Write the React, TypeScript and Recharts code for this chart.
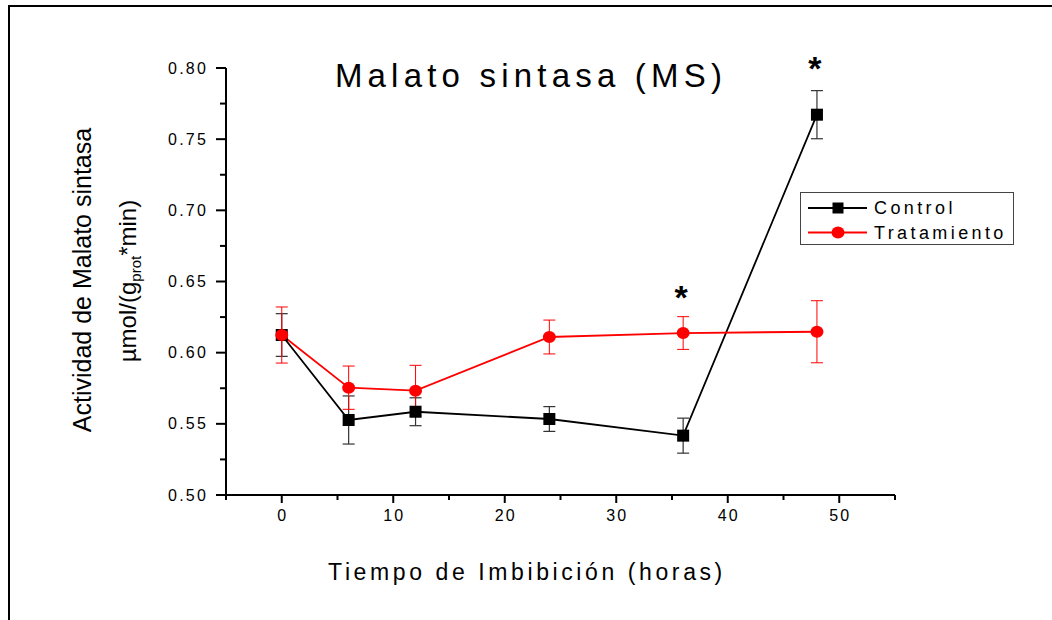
import React from 'react';
import { ComposedChart, Line, ErrorBar, XAxis, YAxis, Legend, ReferenceDot } from 'recharts';

const HORAS = [0, 6, 12, 24, 36, 48];
const CONTROL = [0.6124, 0.5527, 0.5585, 0.5534, 0.5417, 0.7672];
const CONTROL_ERR = [0.015, 0.0169, 0.0098, 0.0087, 0.0123, 0.0169];
const TRATAMIENTO = [0.6124, 0.5754, 0.5733, 0.611, 0.6138, 0.6147];
const TRATAMIENTO_ERR = [0.0197, 0.0152, 0.0178, 0.0119, 0.0115, 0.0218];
// asteriscos de significancia (hora, posición en el eje y)
const SIG_HORAS = [36, 48];
const SIG_Y = [0.644, 0.805];

const X_TICKS = [-5, 0, 5, 10, 15, 20, 25, 30, 35, 40, 45, 50, 55];
const Y_TICKS = [0.5, 0.525, 0.55, 0.575, 0.6, 0.625, 0.65, 0.675, 0.7, 0.725, 0.75, 0.775, 0.8];

const FONT = '"Liberation Sans", Arial, sans-serif';

const data = HORAS.map((h, i) => ({
  hora: h,
  control: CONTROL[i],
  controlErr: CONTROL_ERR[i],
  tratamiento: TRATAMIENTO[i],
  tratamientoErr: TRATAMIENTO_ERR[i],
}));

const XTick = (props: any) => {
  const { x, y, payload } = props;
  const v = payload.value;
  const major = v % 10 === 0;
  return (
    <g>
      <line x1={x} y1={y} x2={x} y2={y + (major ? 8 : 5)} stroke="#000" strokeWidth={2} />
      {major && (
        <text x={x + 1} y={y + 26} textAnchor="middle" fontSize={16} letterSpacing={2} fontFamily={FONT} fill="#000">
          {v}
        </text>
      )}
    </g>
  );
};

const YTick = (props: any) => {
  const { x, y, payload } = props;
  const v = payload.value;
  const major = Math.round(v * 1000) % 50 === 0;
  return (
    <g>
      <line x1={x - (major ? 10 : 6)} y1={y} x2={x} y2={y} stroke="#000" strokeWidth={2} />
      {major && (
        <text x={x - 18} y={y} textAnchor="end" dominantBaseline="central" fontSize={16} letterSpacing={2.2} fontFamily={FONT} fill="#000">
          {v.toFixed(2)}
        </text>
      )}
    </g>
  );
};

const SquareDot = (props: any) => {
  const { cx, cy, index } = props;
  return <rect key={`sq-${index}`} x={cx - 6} y={cy - 6} width={12} height={12} fill="#000" />;
};

const CircleDot = (props: any) => {
  const { cx, cy, index } = props;
  return <ellipse key={`ci-${index}`} cx={cx} cy={cy} rx={6.5} ry={6} fill="#ff0000" />;
};

const Asterisco = (props: any) => {
  const { cx, cy } = props;
  return (
    <text x={cx - 2} y={cy + 19} textAnchor="middle" fontSize={34} fontWeight="bold" fontFamily={FONT} fill="#000">
      *
    </text>
  );
};

const LegendBox = () => (
  <svg width={215} height={54} style={{ display: 'block' }}>
    <rect x={0.5} y={0.5} width={213} height={52} fill="#fff" stroke="#444" strokeWidth={1} />
    <line x1={8} y1={16} x2={67} y2={16} stroke="#000" strokeWidth={1.8} />
    <rect x={32.5} y={10.5} width={11} height={11} fill="#000" />
    <text x={74} y={22} fontSize={18} letterSpacing={3.4} fontFamily={FONT} fill="#000">Control</text>
    <line x1={8} y1={40.5} x2={67} y2={40.5} stroke="#ff0000" strokeWidth={1.8} />
    <ellipse cx={38} cy={40.5} rx={6.5} ry={6} fill="#ff0000" />
    <text x={74} y={47} fontSize={18} letterSpacing={3.4} fontFamily={FONT} fill="#000">Tratamiento</text>
  </svg>
);

const YLabel = () => (
  <g fontFamily={FONT} fill="#000">
    <text x={91} y={280} transform="rotate(-90 91 280)" textAnchor="middle" fontSize={25}>
      Actividad de Malato sintasa
    </text>
    <text x={136} y={281} transform="rotate(-90 136 281)" textAnchor="middle" fontSize={24}>
      <tspan>µmol/(g</tspan>
      <tspan fontSize={15} dy={5}>prot</tspan>
      <tspan dy={-5}>*min)</tspan>
    </text>
  </g>
);

const XLabel = () => (
  <text x={527} y={580} textAnchor="middle" fontSize={23} letterSpacing={3.6} fontFamily={FONT} fill="#000">
    Tiempo de Imbibición (horas)
  </text>
);

export default function App() {
  return (
    <div style={{ width: 1052, height: 620, background: '#fff', position: 'relative' }}>
      <style>{'body{margin:0;background:#fff}'}</style>
      <ComposedChart
        width={1052}
        height={620}
        data={data}
        margin={{ top: 68, right: 157, bottom: 95, left: 166 }}
      >
        <line x1={9} y1={6} x2={1052} y2={6} stroke="#000" strokeWidth={2} />
        <line x1={9} y1={5} x2={9} y2={620} stroke="#000" strokeWidth={2} />
        <text x={531} y={87} textAnchor="middle" fontSize={33} letterSpacing={5.2} fontFamily={FONT} fill="#000">
          Malato sintasa (MS)
        </text>
        <XAxis
          dataKey="hora"
          type="number"
          domain={[-5, 55]}
          ticks={X_TICKS}
          interval={0}
          height={30}
          tickSize={0}
          tickMargin={0}
          tickLine={false}
          tick={<XTick />}
          axisLine={{ stroke: '#000', strokeWidth: 2 }}
          label={<XLabel />}
        />
        <YAxis
          type="number"
          domain={[0.5, 0.8]}
          allowDataOverflow
          ticks={Y_TICKS}
          interval={0}
          width={60}
          tickSize={0}
          tickMargin={0}
          tickLine={false}
          tick={<YTick />}
          axisLine={{ stroke: '#000', strokeWidth: 2 }}
          label={<YLabel />}
        />
        <Legend
          layout="vertical"
          align="center"
          verticalAlign="middle"
          content={() => <LegendBox />}
          wrapperStyle={{ left: 800, top: 192, width: 215, height: 54 }}
        />
        <Line
          dataKey="control"
          name="Control"
          stroke="#000"
          strokeWidth={1.8}
          dot={<SquareDot />}
          activeDot={false}
          isAnimationActive={false}
        >
          <ErrorBar dataKey="controlErr" width={6} stroke="#333" strokeWidth={1.2} direction="y" isAnimationActive={false} />
        </Line>
        <Line
          dataKey="tratamiento"
          name="Tratamiento"
          stroke="#ff0000"
          strokeWidth={1.8}
          dot={<CircleDot />}
          activeDot={false}
          isAnimationActive={false}
        >
          <ErrorBar dataKey="tratamientoErr" width={6} stroke="#ff0000" strokeWidth={1} direction="y" isAnimationActive={false} />
        </Line>
        {SIG_HORAS.map((h, i) => (
          <ReferenceDot key={`sig-${h}`} x={h} y={SIG_Y[i]} r={0} ifOverflow="visible" shape={<Asterisco />} />
        ))}
      </ComposedChart>
    </div>
  );
}
